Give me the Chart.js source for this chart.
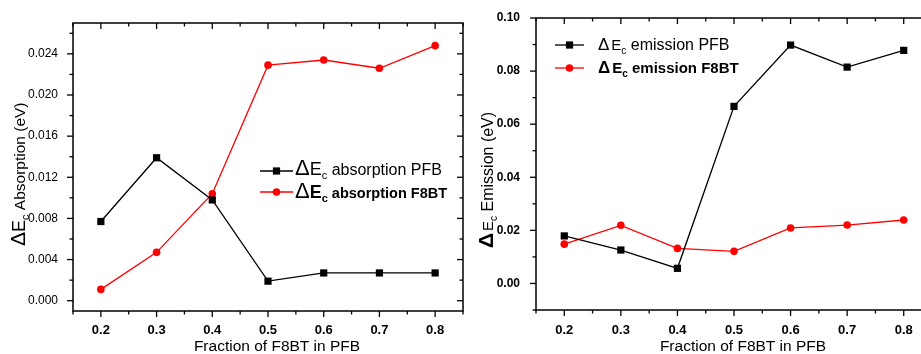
<!DOCTYPE html>
<html>
<head>
<meta charset="utf-8">
<title>Delta Ec vs fraction of F8BT</title>
<script src="https://cdn.jsdelivr.net/npm/chart.js@4.4.1/dist/chart.umd.min.js"></script>
<style>
  html, body { margin: 0; padding: 0; background: #fff; overflow: hidden; }
  #wrap { position: relative; width: 921px; height: 354px; overflow: hidden; }
  canvas { position: absolute; top: 0; }
</style>
</head>
<body>
<div id="wrap">
  <canvas id="absChart" width="470" height="354" style="left:0"></canvas>
  <canvas id="emChart" width="470" height="354" style="left:470px"></canvas>
</div>
<script>
// data
const fractions = [0.2, 0.3, 0.4, 0.5, 0.6, 0.7, 0.8];
const xTickValues = [0.2, 0.3, 0.4, 0.5, 0.6, 0.7, 0.8];
const xTickLabels = ['0.2', '0.3', '0.4', '0.5', '0.6', '0.7', '0.8'];

const absPFB  = [0.0077, 0.0139, 0.0098, 0.0019, 0.0027, 0.0027, 0.0027];
const absF8BT = [0.0011, 0.0047, 0.0104, 0.0229, 0.0234, 0.0226, 0.0248];
const absYTicks  = [0, 0.004, 0.008, 0.012, 0.016, 0.020, 0.024];
const absYLabels = ['0.000', '0.004', '0.008', '0.012', '0.016', '0.020', '0.024'];

const emPFB  = [0.0179, 0.0126, 0.0057, 0.0667, 0.0898, 0.0815, 0.0878];
const emF8BT = [0.0148, 0.0219, 0.0132, 0.0121, 0.0209, 0.0220, 0.0239];
const emYTicks  = [0, 0.02, 0.04, 0.06, 0.08, 0.10];
const emYLabels = ['0.00', '0.02', '0.04', '0.06', '0.08', '0.10'];

const FAM = '"Liberation Sans", Arial, sans-serif';
const fnt = (w, s) => w + ' ' + s + 'px ' + FAM;

function drawRuns(ctx, x, y, runs) {
  let cx = x;
  runs.forEach(r => {
    ctx.font = r.font;
    ctx.fillText(r.text, cx, y + (r.dy || 0));
    cx += ctx.measureText(r.text).width + (r.gap || 0);
  });
}

function minorValues(min, max, step) {
  const out = [];
  for (let k = Math.ceil(min / step - 1e-6); k * step <= max + 1e-9; k++) out.push(k * step);
  return out;
}
const isMajor = (v, step) => Math.abs(v / step - Math.round(v / step)) < 1e-6;

function drawMarker(ctx, style, color, x, y) {
  ctx.fillStyle = color;
  if (style === 'rect') {
    ctx.fillRect(x - 3.6, y - 3.6, 7.2, 7.2);
  } else {
    ctx.beginPath(); ctx.arc(x, y, 3.8, 0, Math.PI * 2); ctx.fill();
  }
}

// frame, ticks on all four sides, legend and axis titles
const decorPlugin = {
  id: 'decor',
  beforeDatasetsDraw(chart, args, o) {
    const { ctx, chartArea: a, scales: { x, y } } = chart;
    ctx.save();
    ctx.strokeStyle = '#000';
    ctx.lineWidth = 1.5;
    ctx.strokeRect(a.left, a.top, a.right - a.left, a.bottom - a.top);
    const line = (x1, y1, x2, y2) => { ctx.beginPath(); ctx.moveTo(x1, y1); ctx.lineTo(x2, y2); ctx.stroke(); };
    ctx.lineWidth = 1.3;
    minorValues(x.min, x.max, o.xMinor).forEach(v => {
      const px = x.getPixelForValue(v);
      const len = isMajor(v, o.xMajor) ? 6 : 3.5;
      line(px, a.bottom, px, a.bottom + len);
      line(px, a.top, px, a.top + len);
    });
    minorValues(y.min, y.max, o.yMinor).forEach(v => {
      const py = y.getPixelForValue(v);
      const len = isMajor(v, o.yMajor) ? 6 : 3.5;
      line(a.left, py, a.left - len, py);
      line(a.right, py, a.right - len, py);
    });
    ctx.restore();
  },
  afterDraw(chart, args, o) {
    const ctx = chart.ctx;
    ctx.save();
    ctx.fillStyle = '#000';
    ctx.textBaseline = 'alphabetic';
    // legend
    o.legend.forEach(e => {
      ctx.strokeStyle = e.color;
      ctx.lineWidth = 1.3;
      ctx.beginPath(); ctx.moveTo(e.x0, e.lineY); ctx.lineTo(e.x1, e.lineY); ctx.stroke();
      drawMarker(ctx, e.style, e.color, (e.x0 + e.x1) / 2, e.lineY);
      ctx.fillStyle = '#000';
      drawRuns(ctx, e.textX, e.baseline, e.runs);
    });
    // x title
    ctx.font = fnt('normal', 15.5);
    ctx.textAlign = 'center';
    ctx.fillText(o.xTitle.text, o.xTitle.x, o.xTitle.y);
    ctx.textAlign = 'left';
    // y title, rotated
    ctx.translate(o.yTitle.x, o.yTitle.y);
    ctx.rotate(-Math.PI / 2);
    drawRuns(ctx, 0, 0, o.yTitle.runs);
    ctx.restore();
  }
};

function makeChart(id, cfg) {
  return new Chart(document.getElementById(id), {
    type: 'line',
    data: {
      datasets: [
        {
          data: fractions.map((f, i) => ({ x: f, y: cfg.black[i] })),
          borderColor: '#000', backgroundColor: '#000',
          borderWidth: 1.3, pointStyle: 'rect', pointRadius: 5.1,
          pointBorderWidth: 0, tension: 0
        },
        {
          data: fractions.map((f, i) => ({ x: f, y: cfg.red[i] })),
          borderColor: '#ff0000', backgroundColor: '#ff0000',
          borderWidth: 1.3, pointStyle: 'circle', pointRadius: 3.8,
          pointBorderWidth: 0, tension: 0
        }
      ]
    },
    options: {
      responsive: false,
      animation: false,
      layout: { padding: cfg.padding },
      plugins: {
        legend: { display: false },
        tooltip: { enabled: false },
        decor: cfg.decor
      },
      scales: {
        x: {
          type: 'linear', min: 0.15, max: 0.85,
          grid: { display: false }, border: { display: false },
          afterBuildTicks: s => { s.ticks = xTickValues.map(v => ({ value: v })); },
          afterFit: s => { s.height = cfg.xHeight; },
          ticks: {
            padding: cfg.xPad, color: '#000', font: { family: FAM, size: 13, weight: 'bold' },
            maxRotation: 0, callback: (v, i) => xTickLabels[i]
          }
        },
        y: {
          type: 'linear', min: cfg.yMin, max: cfg.yMax,
          grid: { display: false }, border: { display: false },
          afterBuildTicks: s => { s.ticks = cfg.yTicks.map(v => ({ value: v })); },
          afterFit: s => { s.width = cfg.yWidth; },
          ticks: {
            padding: cfg.yPad, color: '#000', font: { family: FAM, size: 12, weight: cfg.yWeight },
            callback: (v, i) => cfg.yLabels[i]
          }
        }
      }
    },
    plugins: [decorPlugin]
  });
}

makeChart('absChart', {
  black: absPFB, red: absF8BT,
  yMin: -0.001, yMax: 0.027, yTicks: absYTicks, yLabels: absYLabels,
  padding: { top: 23, right: 7, left: 0, bottom: 0 },
  xHeight: 43, yWidth: 73, xPad: 4, yPad: 7, yWeight: 'normal',
  decor: {
    xMajor: 0.1, xMinor: 0.05, yMajor: 0.004, yMinor: 0.002,
    xTitle: { text: 'Fraction of F8BT in PFB', x: 277, y: 351 },
    yTitle: {
      x: 25, y: 246,
      runs: [
        { text: 'Δ', font: fnt('normal', 21) },
        { text: 'E', font: fnt('normal', 18) },
        { text: 'c', font: fnt('normal', 11), dy: 4 },
        { text: ' Absorption (eV)', font: fnt('normal', 15.5) }
      ]
    },
    legend: [
      {
        x0: 260, x1: 293, lineY: 171, color: '#000', style: 'rect', textX: 295, baseline: 175,
        runs: [
          { text: 'Δ', font: fnt('normal', 22) },
          { text: 'E', font: fnt('normal', 18) },
          { text: 'c', font: fnt('normal', 11), dy: 4 },
          { text: ' absorption PFB', font: fnt('normal', 16) }
        ]
      },
      {
        x0: 260, x1: 293, lineY: 192, color: '#ff0000', style: 'circle', textX: 295, baseline: 197.5,
        runs: [
          { text: 'Δ', font: fnt('normal', 22) },
          { text: 'E', font: fnt('bold', 18) },
          { text: 'c', font: fnt('bold', 11), dy: 4 },
          { text: ' absorption F8BT', font: fnt('bold', 14.5) }
        ]
      }
    ]
  }
});

makeChart('emChart', {
  black: emPFB, red: emF8BT,
  yMin: -0.01, yMax: 0.10, yTicks: emYTicks, yLabels: emYLabels,
  padding: { top: 18, right: 8, left: 0, bottom: 0 },
  xHeight: 44, yWidth: 66, xPad: 5, yPad: 8, yWeight: 'bold',
  decor: {
    xMajor: 0.1, xMinor: 0.05, yMajor: 0.02, yMinor: 0.01,
    xTitle: { text: 'Fraction of F8BT in PFB', x: 273, y: 351 },
    yTitle: {
      x: 23, y: 248,
      runs: [
        { text: 'Δ', font: fnt('bold', 21), gap: 2 },
        { text: 'E', font: fnt('normal', 15) },
        { text: 'c', font: fnt('normal', 10), dy: 4 },
        { text: ' Emission (eV)', font: fnt('normal', 16) }
      ]
    },
    legend: [
      {
        x0: 85, x1: 114, lineY: 45, color: '#000', style: 'rect', textX: 128, baseline: 50,
        runs: [
          { text: 'Δ', font: fnt('normal', 17), gap: 2 },
          { text: 'E', font: fnt('normal', 15) },
          { text: 'c', font: fnt('normal', 10), dy: 4 },
          { text: ' emission PFB', font: fnt('normal', 16) }
        ]
      },
      {
        x0: 85, x1: 114, lineY: 68, color: '#ff0000', style: 'circle', textX: 128, baseline: 73,
        runs: [
          { text: 'Δ', font: fnt('bold', 17), gap: 2 },
          { text: 'E', font: fnt('bold', 15) },
          { text: 'c', font: fnt('bold', 10), dy: 4 },
          { text: ' emission F8BT', font: fnt('bold', 15) }
        ]
      }
    ]
  }
});
</script>
</body>
</html>
